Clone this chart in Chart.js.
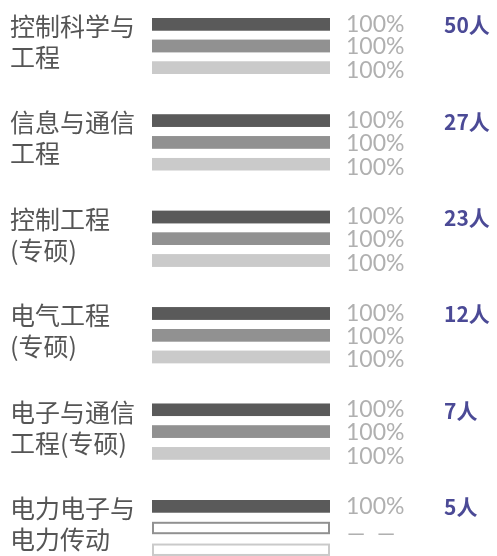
<!DOCTYPE html>
<html>
<head>
<meta charset="utf-8">
<script src="https://cdn.jsdelivr.net/npm/chart.js@4/dist/chart.umd.min.js"></script>
<style>
  html, body { margin: 0; padding: 0; background: #ffffff; }
  #wrap { width: 497px; height: 556px; position: relative; }
</style>
</head>
<body>
<div id="wrap"><canvas id="majorChart"></canvas></div>
<script>
// Datos por especialidad
const categorias = [
    ['控制科学与', '工程'],
    ['信息与通信', '工程'],
    ['控制工程', '(专硕)'],
    ['电气工程', '(专硕)'],
    ['电子与通信', '工程(专硕)'],
    ['电力电子与', '电力传动']
];
const tasaA = [100, 100, 100, 100, 100, 100];
const tasaB = [100, 100, 100, 100, 100, null];
const tasaC = [100, 100, 100, 100, 100, null];
const personas = [50, 27, 23, 12, 7, 5];

const coloresSerie = ['#5a5a5a', '#919191', '#cacaca'];

// Pista de fondo: rectángulo con borde para cada barra (visible cuando no hay dato)
const pistaPlugin = {
    id: 'pista',
    beforeDatasetsDraw(chart) {
        const { ctx, scales: { x } } = chart;
        const x0 = x.getPixelForValue(0);
        const x1 = x.getPixelForValue(100);
        chart.data.datasets.forEach((ds, di) => {
            const meta = chart.getDatasetMeta(di);
            meta.data.forEach(bar => {
                const h = bar.height;
                const top = bar.y - h / 2;
                ctx.save();
                ctx.fillStyle = '#ffffff';
                ctx.fillRect(x0, top, x1 - x0, h);
                ctx.strokeStyle = ds.backgroundColor;
                ctx.lineWidth = 2;
                ctx.strokeRect(x0 + 1, top + 1, x1 - x0 - 2, h - 2);
                ctx.restore();
            });
        });
    }
};

// Etiquetas de porcentaje y número de personas
const desplazamiento = [0, 1, 3];

const etiquetasPlugin = {
    id: 'etiquetas',
    afterDatasetsDraw(chart) {
        const { ctx } = chart;
        chart.data.datasets.forEach((ds, di) => {
            const meta = chart.getDatasetMeta(di);
            meta.data.forEach((bar, i) => {
                const v = ds.data[i];
                const y = bar.y + desplazamiento[di];
                ctx.save();
                ctx.textBaseline = 'middle';
                ctx.textAlign = 'left';
                ctx.fillStyle = '#b0b0b0';
                ctx.font = '23px Lato, sans-serif';
                if (v == null) {
                    ctx.fillText('—  —', 347, y + 5);
                } else {
                    ctx.fillText(v + '%', 346, y);
                }
                if (di === 0) {
                    ctx.fillStyle = '#4b4a96';
                    ctx.font = 'bold 21px "Noto Sans CJK SC", sans-serif';
                    ctx.fillText(personas[i] + '人', 444, bar.y + 1);
                }
                ctx.restore();
            });
        });
    }
};

const ctx = document.getElementById('majorChart').getContext('2d');

new Chart(ctx, {
    type: 'bar',
    data: {
        labels: categorias,
        datasets: [
            { label: 'A', data: tasaA, backgroundColor: coloresSerie[0] },
            { label: 'B', data: tasaB, backgroundColor: coloresSerie[1] },
            { label: 'C', data: tasaC, backgroundColor: coloresSerie[2] }
        ].map(ds => Object.assign(ds, {
            barPercentage: 0.57,
            categoryPercentage: 0.677,
            borderWidth: 0,
            clip: false
        }))
    },
    options: {
        indexAxis: 'y',
        responsive: true,
        maintainAspectRatio: false,
        animation: false,
        layout: {
            padding: { left: 10, right: 167, top: 46, bottom: 28 }
        },
        plugins: {
            legend: { display: false },
            tooltip: { enabled: false }
        },
        scales: {
            x: {
                display: false,
                min: 0,
                max: 100
            },
            y: {
                offset: false,
                grid: { display: false },
                border: { display: false },
                ticks: {
                    crossAlign: 'far',
                    padding: 0,
                    labelOffset: -4,
                    color: '#555555',
                    font: { family: '"Noto Sans CJK SC", sans-serif', size: 25, lineHeight: 1.24 }
                },
                afterFit(scale) {
                    scale.width = 142;
                    scale.paddingTop = 0;
                    scale.paddingBottom = 0;
                }
            }
        }
    },
    plugins: [pistaPlugin, etiquetasPlugin]
});
</script>
</body>
</html>
